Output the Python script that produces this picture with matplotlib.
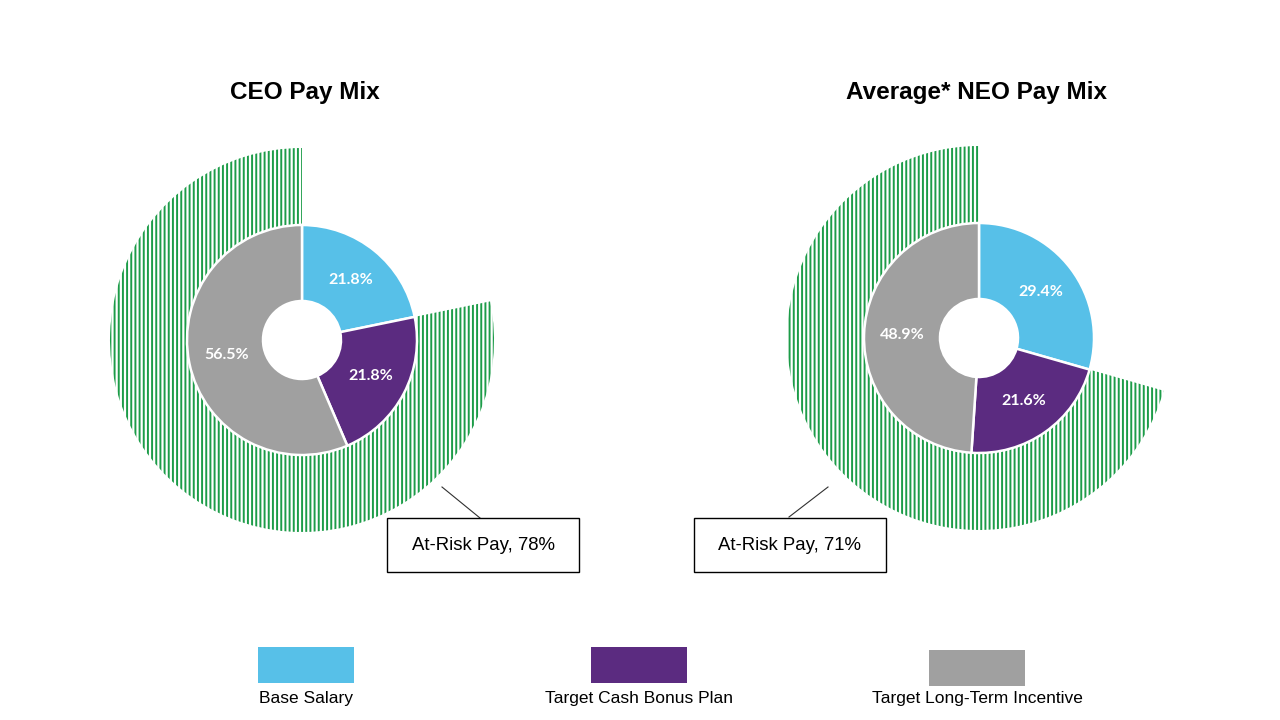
import matplotlib
matplotlib.use('Agg')
import numpy as np
import matplotlib.pyplot as plt
from matplotlib.patches import Rectangle

###############################
# Data

categories = ['Base Salary', 'Target Cash Bonus Plan', 'Target Long-Term Incentive']
ceo_mix = [21.8, 21.8, 56.5]
neo_mix = [29.4, 21.6, 48.9]
titles = ['CEO Pay Mix', 'Average* NEO Pay Mix']
at_risk_labels = ['At-Risk Pay, 78%', 'At-Risk Pay, 71%']

###############################
# Style / layout (pixel space, y up)

colors = ['#57c0e8', '#5b2b80', '#a0a0a0']
green = '#1c9c48'
centers = [(302, 380), (979, 382)]
title_x = [305, 976]
r_hole = 39
r_donut = 115
r_ring = 192
boxes = [(387, 148), (694, 148)]      # lower-left corners of callout boxes
box_w, box_h = 192, 54
leaders = [((442, 233), (480, 202)), ((828, 233), (789, 203))]
legend_x = [306, 639, 977]

plt.rcParams['hatch.linewidth'] = 1.4

fig = plt.figure(figsize=(12.8, 7.2), dpi=100)
ax = fig.add_axes([0, 0, 1, 1])

for mix, center, tx, title, box, leader, risk_text in zip(
        [ceo_mix, neo_mix], centers, title_x, titles, boxes, leaders, at_risk_labels):
    # outer at-risk ring
    ring, _ = ax.pie([mix[0], mix[1] + mix[2]], radius=r_ring, center=center,
                     startangle=90, counterclock=False,
                     colors=['none', 'white'],
                     wedgeprops=dict(width=r_ring - r_donut, linewidth=0))
    ring[0].set_visible(False)
    ring[1].set_hatch('||||')
    ring[1].set_edgecolor(green)
    ring[1].set_linewidth(0)

    # pay mix donut
    wedges, _ = ax.pie(mix, radius=r_donut, center=center, startangle=90,
                       counterclock=False, colors=colors,
                       wedgeprops=dict(width=r_donut - r_hole, edgecolor='white',
                                       linewidth=1.8))
    for w, v in zip(wedges, mix):
        ang = np.deg2rad((w.theta1 + w.theta2) / 2)
        ax.text(center[0] + 0.67 * r_donut * np.cos(ang),
                center[1] + 0.67 * r_donut * np.sin(ang),
                f'{v}%', ha='center', va='center', color='white',
                fontsize=11.5, fontweight='bold', family='Lato')

    ax.text(tx, 627, title, ha='center', va='center',
            fontsize=17.5, fontweight='bold', family='Liberation Sans')

    # callout
    ax.add_patch(Rectangle(box, box_w, box_h, facecolor='white',
                           edgecolor='black', linewidth=1, zorder=5))
    ax.text(box[0] + box_w / 2, box[1] + box_h / 2, risk_text, ha='center',
            va='center', fontsize=13.4, family='Liberation Sans', zorder=6)
    ax.plot([leader[0][0], leader[1][0]], [leader[0][1], leader[1][1]],
            color='#303030', linewidth=0.8, zorder=4)

# legend
for x, c, name in zip(legend_x, colors, categories):
    y0 = 37 if c != colors[2] else 34
    ax.add_patch(Rectangle((x - 48, y0), 96, 36, facecolor=c, edgecolor='none'))
    ax.text(x, 22, name, ha='center', va='center', fontsize=12.5,
            family='Liberation Sans')

ax.set_xlim(0, 1280)
ax.set_ylim(0, 720)
ax.set_aspect('equal')
ax.axis('off')

fig.savefig('out.png', dpi=100)
